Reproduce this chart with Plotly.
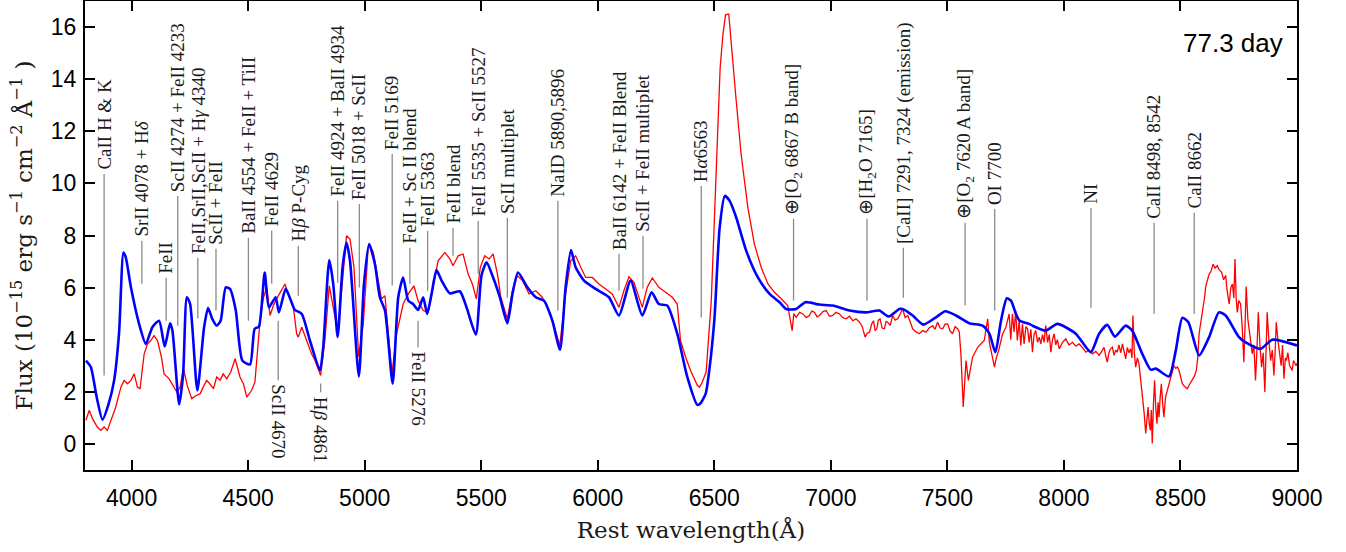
import plotly.graph_objects as go

# ---------------- data ----------------
blue_wl = [3804, 3825, 3850, 3875, 3900, 3925, 3946, 3965, 3975, 3997, 4032, 4061, 4089, 4118,
           4142, 4165, 4175, 4204, 4221, 4237, 4251, 4282, 4311, 4328, 4346, 4365, 4382, 4404,
           4422, 4447, 4475, 4508, 4528, 4546, 4571, 4589, 4618, 4632, 4661, 4689, 4700, 4730,
           4765, 4808, 4822, 4848, 4865, 4884, 4905, 4922, 4937, 4975, 4997, 5019, 5044, 5065,
           5087, 5120, 5144, 5165, 5187, 5208, 5229, 5251, 5268, 5287, 5308, 5330, 5365, 5408,
           5437, 5477, 5501, 5523, 5551, 5580, 5612, 5634, 5658, 5698, 5734, 5769, 5805, 5838,
           5862, 5885, 5905, 5941, 5991, 6048, 6091, 6141, 6191, 6231, 6262, 6298, 6341, 6384,
           6427, 6440, 6463, 6480, 6501, 6523, 6545, 6566, 6594, 6637, 6687, 6737, 6780, 6808,
           6851, 6891, 6951, 7008, 7080, 7151, 7208, 7248, 7294, 7308, 7351, 7397, 7451, 7491,
           7537, 7594, 7651, 7680, 7706, 7730, 7755, 7773, 7794, 7810, 7851, 7865, 7922, 7972,
           8051, 8115, 8151, 8186, 8219, 8265, 8293, 8336, 8372, 8394, 8451, 8480, 8508, 8534,
           8580, 8623, 8665, 8694, 8751, 8780, 8844, 8894, 9000]
blue_flux = [3.2, 2.95, 1.8, 0.93, 1.5, 2.44, 4.24, 7.35, 7.16, 6.01, 4.61, 3.84, 4.48, 4.73,
             3.74, 4.63, 4.35, 1.52, 2.69, 5.63, 5.37, 2.05, 4.48, 5.22, 4.80, 4.54, 4.73, 6.01,
             5.95, 5.12, 3.2, 3.05, 4.42, 4.5, 6.58, 5.24, 5.63, 5.05, 5.95, 5.37, 5.15, 4.99,
             3.97, 2.82, 3.71, 7.06, 6.14, 4.1, 6.78, 7.73, 7.03, 2.59, 6.14, 7.67, 6.9, 5.63,
             5.12, 2.31, 5.63, 6.39, 5.5, 5.37, 5.14, 5.63, 4.99, 5.76, 6.67, 6.27, 5.78, 5.86,
             5.24, 4.2, 6.46, 6.97, 6.39, 5.63, 4.63, 5.76, 6.58, 6.01, 5.63, 5.5, 4.73, 3.62,
             6.01, 7.44, 6.78, 6.27, 5.95, 5.63, 4.93, 6.27, 4.93, 5.82, 5.37, 5.31, 4.23, 2.57,
             1.50, 1.55, 1.93, 2.95, 4.86, 8.31, 9.52, 9.33, 8.69, 7.41, 6.39, 5.76, 5.44, 5.18,
             5.18, 5.44, 5.35, 5.31, 5.12, 5.05, 5.12, 4.89, 5.18, 5.18, 4.93, 4.58, 4.86, 5.09,
             4.93, 4.63, 4.54, 4.23, 3.52, 4.73, 5.59, 5.5, 4.99, 4.73, 4.61, 4.54, 4.35, 4.61,
             4.23, 3.52, 4.23, 4.57, 4.12, 4.54, 4.35, 3.46, 2.85, 2.89, 2.59, 3.59, 4.84, 4.67,
             3.4, 4.1, 5.05, 4.93, 4.1, 3.9, 3.65, 4.0, 3.78]

red_wl = [3804, 3818, 3832, 3853, 3868, 3882, 3896, 3911, 3932, 3954, 3968, 3982, 3997, 4011,
          4025, 4036, 4054, 4068, 4082, 4096, 4111, 4128, 4139, 4161, 4179, 4194, 4208, 4222,
          4240, 4258, 4275, 4294, 4308, 4322, 4336, 4351, 4365, 4380, 4393, 4408, 4425, 4444,
          4465, 4480, 4494, 4515, 4529, 4540, 4551, 4565, 4580, 4594, 4608, 4622, 4637, 4658,
          4672, 4694, 4708, 4715, 4730, 4751, 4772, 4787, 4811, 4829, 4848, 4865, 4884, 4901,
          4922, 4937, 4954, 4974, 4994, 5015, 5022, 5037, 5051, 5072, 5087, 5100, 5117, 5137,
          5165, 5187, 5211, 5229, 5251, 5272, 5294, 5315, 5344, 5365, 5379, 5401, 5422, 5444,
          5462, 5479, 5496, 5515, 5534, 5551, 5570, 5584, 5612, 5634, 5655, 5677, 5705, 5734,
          5762, 5798, 5837, 5862, 5884, 5905, 5927, 5948, 5977, 6005, 6034, 6062, 6091, 6112,
          6134, 6155, 6191, 6212, 6234, 6262, 6291, 6320, 6341, 6355, 6377, 6398, 6427, 6437,
          6448, 6465, 6487, 6508, 6525, 6537, 6548, 6562, 6577, 6594, 6615, 6644, 6672, 6701,
          6730, 6758, 6787, 6815, 6834, 6841, 6851, 6866, 6880, 6894, 6908, 6918, 6930, 6941,
          6951, 6966, 6980, 6994, 7008, 7022, 7037, 7051, 7065, 7080, 7094, 7108, 7123, 7135,
          7147, 7156, 7166, 7175, 7183, 7190, 7197, 7204, 7211, 7220, 7230, 7237, 7244, 7255,
          7265, 7276, 7287, 7297, 7308, 7319, 7330, 7340, 7351, 7365, 7380, 7394, 7408, 7422,
          7437, 7447, 7458, 7469, 7480, 7490, 7501, 7511, 7522, 7533, 7544, 7551, 7558, 7568,
          7580, 7590, 7608, 7630, 7658, 7673, 7680, 7702, 7710, 7720, 7737, 7751, 7758, 7765,
          7772, 7779, 7786, 7793, 7800, 7808, 7815, 7822, 7829, 7837, 7844, 7851, 7858, 7865,
          7872, 7879, 7887, 7894, 7901, 7908, 7915, 7922, 7930, 7937, 7944, 7951, 7958, 7965,
          7972, 7980, 7994, 8008, 8022, 8037, 8051, 8065, 8080, 8094, 8108, 8122, 8137, 8151,
          8165, 8172, 8179, 8186, 8193, 8200, 8208, 8215, 8222, 8229, 8236, 8244, 8251, 8258,
          8265, 8272, 8279, 8286, 8292, 8296, 8302, 8308, 8315, 8322, 8329, 8336, 8344, 8351,
          8356, 8361, 8366, 8371, 8375, 8379, 8384, 8389, 8394, 8399, 8404, 8408, 8413, 8418,
          8424, 8429, 8436, 8443, 8450, 8458, 8465, 8472, 8480, 8487, 8494, 8501, 8508, 8518,
          8529, 8540, 8551, 8560, 8568, 8574, 8580, 8590, 8597, 8603, 8609, 8616, 8623, 8630,
          8640, 8648, 8658, 8665, 8677, 8685, 8694, 8700, 8709, 8716, 8723, 8729, 8734, 8739,
          8744, 8750, 8758, 8765, 8772, 8777, 8782, 8789, 8796, 8802, 8808, 8815, 8822, 8828,
          8834, 8841, 8848, 8855, 8862, 8867, 8872, 8880, 8887, 8894, 8901, 8906, 8911, 8918,
          8925, 8932, 8938, 8944, 8950, 8954, 8961, 8968, 8975, 8979, 8985, 8990, 8996, 9000]
red_flux = [0.91, 1.29, 0.97, 0.65, 0.52, 0.65, 0.52, 0.91, 1.42, 2.18, 2.44, 2.31, 2.44, 2.69,
            2.18, 2.12, 3.46, 3.84, 3.97, 4.16, 3.97, 3.33, 2.69, 2.5, 2.25, 1.99, 2.18, 2.9,
            2.2, 1.74, 1.85, 1.93, 2.2, 2.44, 2.3, 2.12, 2.57, 2.45, 2.69, 2.5, 2.75, 3.27,
            2.57, 2.3, 1.8, 2.06, 2.37, 3.5, 4.73, 5.6, 6.01, 4.93, 5.3, 5.57, 5.82, 6.14,
            5.76, 5.24, 4.23, 4.1, 4.48, 3.97, 3.46, 3.2, 2.63, 3.97, 6.07, 5.24, 4.29, 5.88,
            7.99, 7.86, 6.78, 3.35, 4.61, 7.54, 7.6, 7.35, 6.65, 5.57, 5.69, 4.5, 2.69, 4.23,
            5.37, 5.76, 6.07, 5.5, 5.12, 5.05, 6.14, 7.03, 7.35, 7.1, 6.84, 7.22, 7.29, 6.52,
            6.14, 5.57, 6.78, 7.22, 7.1, 7.29, 6.5, 5.63, 4.8, 5.88, 6.46, 6.27, 5.76, 5.88,
            5.63, 4.99, 3.78, 5.76, 7.03, 7.22, 6.78, 6.39, 6.39, 6.14, 5.95, 5.76, 5.24, 5.88,
            6.42, 6.2, 5.24, 6.01, 6.37, 6.01, 5.82, 5.63, 5.37, 3.97, 3.33, 2.82, 2.25, 2.18,
            2.37, 2.76, 5.5, 10.6, 14.43, 15.71, 16.47, 16.5, 15.07, 13.16, 11.12, 9.07, 7.67, 6.78,
            6.14, 5.82, 5.57, 5.31, 4.35, 5.0, 4.86, 5.05, 4.99, 4.85, 4.93, 5.1, 5.05, 4.88,
            4.93, 5.08, 5.12, 4.9, 4.93, 5.05, 4.99, 4.85, 4.8, 4.9, 4.73, 4.8, 4.67, 4.5,
            4.1, 4.25, 4.29, 4.6, 4.73, 4.35, 4.42, 4.75, 4.8, 4.45, 4.42, 4.7, 4.67, 4.55,
            4.93, 4.75, 4.8, 5.0, 5.18, 4.85, 4.93, 4.7, 4.42, 4.3, 4.23, 4.35, 4.29, 4.45,
            4.54, 4.4, 4.67, 4.45, 4.42, 4.6, 4.61, 4.35, 4.23, 4.5, 4.42, 4.3, 3.46, 1.42,
            3.2, 2.44, 3.33, 3.71, 3.97, 4.8, 3.9, 2.95, 3.3, 3.59, 4.23, 4.48, 4.73, 4.99,
            4.0, 4.99, 4.3, 5.12, 3.97, 4.73, 3.78, 4.6, 3.84, 4.5, 4.42, 3.9, 4.4, 3.52,
            4.2, 4.35, 3.9, 4.1, 3.84, 4.2, 3.9, 4.54, 3.9, 4.2, 3.52, 4.0, 4.23, 3.8,
            4.0, 3.65, 3.9, 4.03, 3.8, 3.9, 3.75, 3.84, 3.7, 3.52, 3.6, 3.46, 3.55, 3.4,
            3.6, 3.71, 3.4, 3.14, 3.5, 3.65, 3.71, 3.4, 3.6, 3.52, 3.8, 3.5, 3.84, 3.6,
            3.27, 3.7, 3.5, 3.65, 3.3, 4.93, 3.5, 2.95, 3.3, 3.08, 2.5, 1.67, 1.2, 0.4,
            1.1, 1.42, 0.8, 0.52, 1.3, 0.02, 1.5, 2.44, 1.4, 0.78, 1.6, 1.03, 1.8, 2.31,
            1.5, 1.03, 1.8, 2.06, 2.3, 2.57, 2.8, 3.01, 2.9, 2.95, 2.82, 2.6, 2.31, 2.2,
            2.12, 2.3, 2.5, 2.6, 2.82, 3.3, 4.23, 4.8, 5.12, 5.6, 6.07, 6.3, 6.52, 6.6,
            6.9, 6.75, 6.84, 6.7, 6.58, 6.3, 6.46, 5.9, 5.37, 6.0, 6.14, 5.6, 7.1, 5.6,
            5.05, 5.5, 5.37, 4.5, 3.14, 4.5, 6.04, 4.8, 4.23, 4.0, 3.46, 3.8, 2.44, 3.6,
            5.05, 3.8, 2.95, 3.5, 1.99, 3.5, 5.05, 3.9, 3.2, 3.6, 2.63, 3.5, 4.67, 4.0,
            3.59, 3.0, 3.8, 2.5, 3.3, 3.2, 3.5, 3.01, 2.9, 2.82, 3.2, 3.08, 3.0, 3.1]

# line identifications: label, wavelength, line start (flux), line end (flux)
upper_labels = ["CaII H &amp; K", "SrII 4078 + H<i>δ</i>", "FeII", "ScII 4274 + FeII 4233",
                "FeII,SrII,ScII + H<i>γ</i> 4340", "ScII + FeII", "BaII 4554 + FeII + TiII",
                "FeII 4629", "H<i>β</i> P-Cyg", "FeII 4924 + BaII 4934", "FeII 5018 + ScII",
                "FeII 5169", "FeII + Sc II blend", "FeII 5363", "FeII blend",
                "FeII 5535 + ScII 5527", "ScII multiplet", "NaID 5890,5896",
                "BaII 6142 + FeII Blend", "ScII + FeII multiplet", "H<i>α</i>6563",
                "⊕[O<sub>2</sub> 6867 B band]", "⊕[H<sub>2</sub>O 7165]",
                "[CaII] 7291, 7324 (emission)", "⊕[O<sub>2</sub> 7620 A band]", "OI 7700",
                "NI", "CaII 8498, 8542", "CaII 8662"]
upper_wl = [3882, 4044, 4148, 4198, 4284, 4362, 4501, 4601, 4715, 4884, 4977, 5118, 5194,
            5270, 5379, 5487, 5612, 5829, 6091, 6194, 6444, 6840, 7155, 7311, 7576, 7703,
            8116, 8387, 8559]
upper_y0 = [2.63, 6.15, 4.73, 4.54, 4.81, 5.12, 4.73, 6.15, 5.69, 6.19, 6.00, 6.08, 6.15,
            5.88, 7.22, 6.53, 5.61, 5.12, 5.88, 5.96, 4.85, 5.50, 5.50, 5.61, 5.31, 5.12,
            5.23, 5.00, 5.00]
upper_y1 = [10.36, 7.80, 6.38, 9.52, 7.15, 7.49, 7.91, 8.18, 7.61, 9.33, 9.21, 11.13, 7.53,
            8.18, 8.29, 8.56, 8.68, 9.33, 7.30, 7.99, 9.90, 8.64, 8.64, 7.53, 8.49, 9.02,
            9.06, 8.49, 8.87]

lower_labels = ["ScII 4670", "H<i>β</i> 4861", "FeII 5276"]
lower_wl = [4629, 4811, 5229]
lower_y0 = [4.73, 2.32, 4.73]
lower_y1 = [2.44, 1.98, 3.70]

x_ticks = [4000, 4500, 5000, 5500, 6000, 6500, 7000, 7500, 8000, 8500, 9000]
y_ticks = [0, 2, 4, 6, 8, 10, 12, 14, 16]
epoch_label = "77.3 day"

# ---------------- figure ----------------
fig = go.Figure()

# identification lines
lx, ly = [], []
for w, a, b in zip(upper_wl + lower_wl, upper_y0 + lower_y0, upper_y1 + lower_y1):
    lx += [w, w, None]
    ly += [a, b, None]
fig.add_trace(go.Scatter(x=lx, y=ly, mode="lines", line=dict(color="#8a8a8a", width=1.3),
                         hoverinfo="skip", showlegend=False))

fig.add_trace(go.Scatter(x=red_wl, y=red_flux, mode="lines",
                         line=dict(color="#ff0000", width=1.3), showlegend=False))
fig.add_trace(go.Scatter(x=blue_wl, y=blue_flux, mode="lines",
                         line=dict(color="#0000ff", width=2.6, shape="spline", smoothing=0.6),
                         showlegend=False))

label_font = dict(family="Liberation Serif, Times New Roman, serif", size=19, color="#1a1a1a")
for t, w, y in zip(upper_labels, upper_wl, upper_y1):
    fig.add_annotation(x=w, y=y, text=t, textangle=-90, showarrow=False,
                       xanchor="center", yanchor="bottom", yshift=2, font=label_font)
for t, w, y in zip(lower_labels, lower_wl, lower_y1):
    fig.add_annotation(x=w, y=y, text=t, textangle=90, showarrow=False,
                       xanchor="center", yanchor="top", yshift=-2, font=label_font)

fig.add_annotation(xref="paper", yref="paper", x=0.99, y=0.91, text=epoch_label,
                   showarrow=False, xanchor="right", yanchor="middle",
                   font=dict(family="Liberation Sans, Arial, sans-serif", size=26, color="black"))

tick_font = dict(family="Liberation Sans, Arial, sans-serif", size=23, color="black")
title_font = dict(family="DejaVu Serif, serif", size=23, color="#1a1a1a")

fig.update_xaxes(range=[3800, 9000], tickvals=x_ticks, ticktext=[str(v) for v in x_ticks],
                 ticks="inside", ticklen=10, tickwidth=1.5, tickcolor="black",
                 showline=True, linecolor="black", linewidth=2, mirror="ticks",
                 showgrid=False, zeroline=False, tickfont=tick_font, ticklabelstandoff=6,
                 automargin=False,
                 title=dict(text="Rest wavelength(Å)", font=title_font, standoff=12))
fig.update_yaxes(range=[-1, 17], tickvals=y_ticks, ticktext=[str(v) for v in y_ticks],
                 ticks="inside", ticklen=10, tickwidth=1.5, tickcolor="black",
                 showline=True, linecolor="black", linewidth=2, mirror="ticks",
                 showgrid=False, zeroline=False, tickfont=tick_font, ticklabelstandoff=2,
                 automargin=False,
                 title=dict(text="Flux (10<sup>−15</sup> erg s<sup>−1</sup> cm<sup>−2</sup> Å<sup>−1</sup> )",
                            font=title_font, standoff=12))

fig.update_layout(width=1346, height=552, margin=dict(l=85, r=49, t=1, b=82),
                  plot_bgcolor="white", paper_bgcolor="white", showlegend=False)

fig.write_html("out.html", config={"displayModeBar": False},
               post_script="document.body.style.margin='0px';")
